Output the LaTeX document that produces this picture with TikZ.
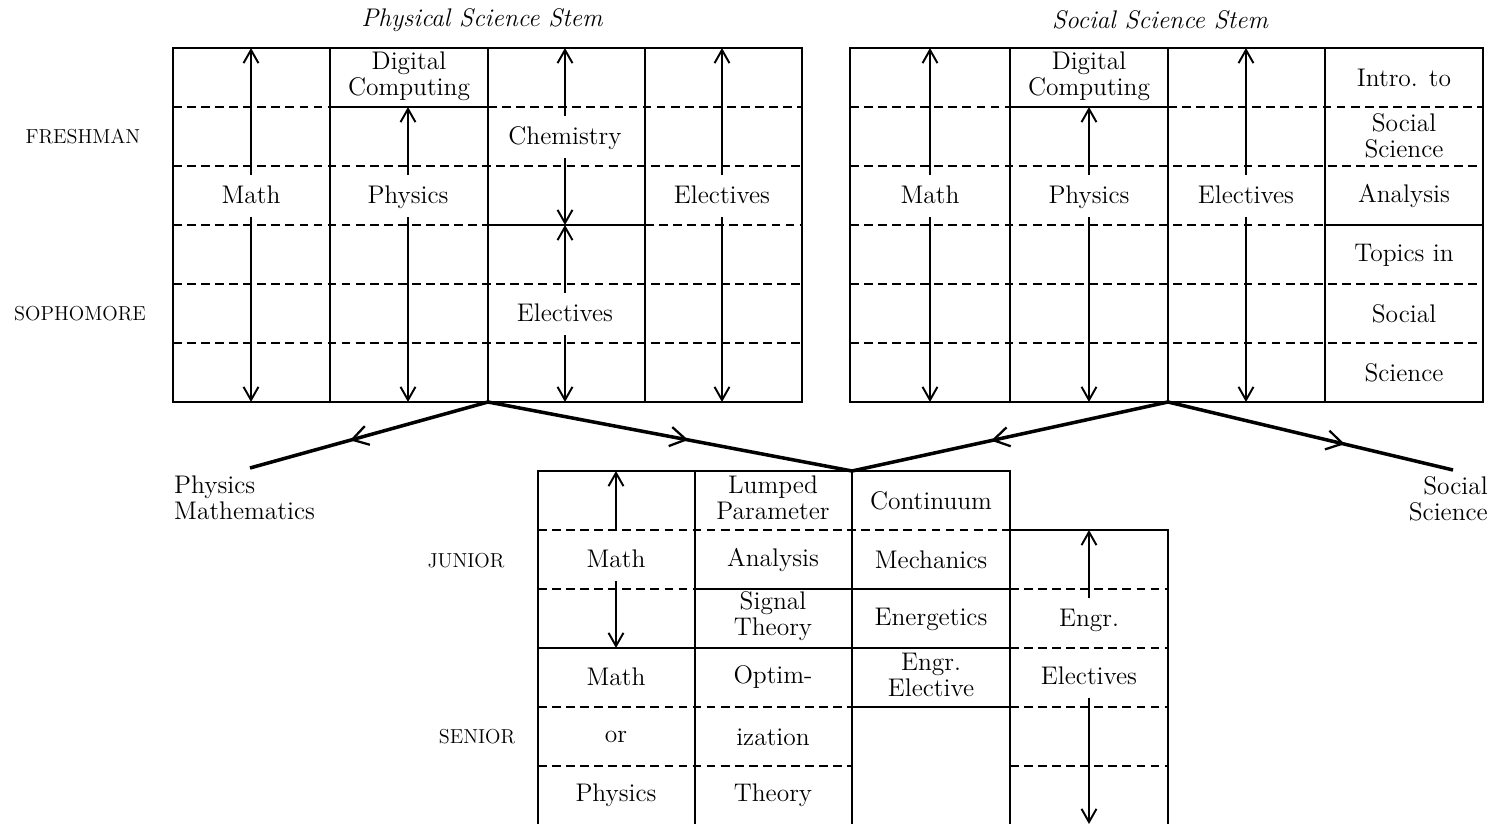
\documentclass[tikz,border=0pt]{standalone}
\usetikzlibrary{arrows.meta,decorations.markings}
\begin{document}
\begin{tikzpicture}[x=0.02cm,y=-0.02cm]
\tikzstyle{every node}+=[font=\fontsize{14.5}{15}\selectfont, align=center]
\tikzstyle{frame}=[black, line width=1.1pt]
\tikzstyle{dashline}=[black, line width=0.9pt, dash pattern=on 5pt off 3pt]
\tikzstyle{cell}=[text height=11pt, text depth=3pt, inner sep=5pt]
\tikzstyle{arr}=[black, line width=1.1pt, -{Straight Barb[length=7.5pt,width=8.5pt]}]
\tikzstyle{year}=[font=\fontsize{11.5}{13}\selectfont]
\tikzstyle{stem}=[font=\fontsize{14.5}{15}\selectfont\itshape]
\tikzset{branch/.style={black, line width=2pt, postaction={decorate},
  decoration={markings, mark=at position #1 with
  {\arrow{Straight Barb[length=9pt,width=11pt,line width=1.3pt]}}}}}
\useasboundingbox (0,0) rectangle (1492,824);
\coordinate (r0) at (0,48);
\coordinate (r1) at (0,107);
\coordinate (r3) at (0,225);
\coordinate (r6) at (0,402);
\coordinate (b0) at (0,471);
\coordinate (b1) at (0,530);
\coordinate (b3) at (0,648);
\coordinate (b6) at (0,824);
% physical science stem
\draw[frame] (173,48) rectangle (802,402);
\foreach \x in {330,488,645} \draw[frame] (\x,48) -- (\x,402);
\draw[dashline] (173,107) -- (330,107) (488,107) -- (802,107);
\draw[frame] (330,107) -- (488,107);
\draw[dashline] (173,166) -- (802,166);
\draw[dashline] (173,225) -- (488,225) (645,225) -- (802,225);
\draw[frame] (488,225) -- (645,225);
\draw[dashline] (173,284) -- (802,284) (173,343) -- (802,343);
\node[stem] (ptitle) at (482,20) {Physical Science Stem};
\node[year] (fresh) at (83,137) {FRESHMAN};
\node[year] (soph) at (80,314) {SOPHOMORE};
\node[cell] (pmath) at (251,196) {Math};
\node (pdig) at (409,76) {Digital\\Computing};
\node[cell] (pphys) at (408,196) {Physics};
\node[cell] (pchem) at (565,137) {Chemistry};
\node[cell] (pelec) at (565,314) {Electives};
\node[cell] (pelec2) at (722,196) {Electives};
\draw[arr] (pmath.north) -- (pmath |- r0);
\draw[arr] (pmath.south) -- (pmath |- r6);
\draw[arr] (pphys.north) -- (pphys |- r1);
\draw[arr] (pphys.south) -- (pphys |- r6);
\draw[arr] (pchem.north) -- (pchem |- r0);
\draw[arr] (pchem.south) -- (pchem |- r3);
\draw[arr] (pelec.north) -- (pelec |- r3);
\draw[arr] (pelec.south) -- (pelec |- r6);
\draw[arr] (pelec2.north) -- (pelec2 |- r0);
\draw[arr] (pelec2.south) -- (pelec2 |- r6);
% social science stem
\draw[frame] (850,48) rectangle (1483,402);
\foreach \x in {1010,1168,1325} \draw[frame] (\x,48) -- (\x,402);
\draw[dashline] (850,107) -- (1010,107) (1168,107) -- (1483,107);
\draw[frame] (1010,107) -- (1168,107);
\draw[dashline] (850,166) -- (1483,166);
\draw[dashline] (850,225) -- (1325,225);
\draw[frame] (1325,225) -- (1483,225);
\draw[dashline] (850,284) -- (1483,284) (850,343) -- (1483,343);
\node[stem] (stitle) at (1160,20) {Social Science Stem};
\node[cell] (smath) at (930,196) {Math};
\node (sdig) at (1089,76) {Digital\\Computing};
\node[cell] (sphys) at (1089,196) {Physics};
\node[cell] (selec) at (1246,196) {Electives};
\node (sintro) at (1404,78) {Intro. to};
\node (ssoc) at (1404,136) {Social\\Science};
\node (sanal) at (1404,196) {Analysis};
\node (stopic) at (1404,255) {Topics in};
\node (ssoc2) at (1404,314) {Social};
\node (ssci) at (1404,373) {Science};
\draw[arr] (smath.north) -- (smath |- r0);
\draw[arr] (smath.south) -- (smath |- r6);
\draw[arr] (sphys.north) -- (sphys |- r1);
\draw[arr] (sphys.south) -- (sphys |- r6);
\draw[arr] (selec.north) -- (selec |- r0);
\draw[arr] (selec.south) -- (selec |- r6);
% junior and senior years
\draw[frame] (538,824) -- (538,471) -- (1010,471) -- (1010,530) -- (1168,530) -- (1168,824);
\foreach \x in {695,852,1010} \draw[frame] (\x,471) -- (\x,824);
\draw[dashline] (538,530) -- (1010,530);
\draw[dashline] (538,589) -- (695,589) (1010,589) -- (1168,589);
\draw[frame] (695,589) -- (1010,589);
\draw[frame] (538,648) -- (1010,648);
\draw[dashline] (1010,648) -- (1168,648);
\draw[dashline] (538,707) -- (852,707) (1010,707) -- (1168,707);
\draw[frame] (852,707) -- (1010,707);
\draw[dashline] (538,766) -- (852,766) (1010,766) -- (1168,766);
\node[year] (jun) at (466,561) {JUNIOR};
\node[year] (sen) at (477,737) {SENIOR};
\node[cell] (jmath) at (616,560) {Math};
\node (jmath2) at (616,677) {Math};
\node (jor) at (616,737) {or};
\node (jphys) at (616,795) {Physics};
\node (jlump) at (773,498) {Lumped\\Parameter};
\node (janal) at (773,560) {Analysis};
\node (jsig) at (773,616) {Signal\\Theory};
\node (jopt) at (773,677) {Optim-};
\node (jiz) at (773,737) {ization};
\node (jtheo) at (773,795) {Theory};
\node (jcont) at (931,501) {Continuum};
\node (jmech) at (931,560) {Mechanics};
\node (jener) at (931,619) {Energetics};
\node (jengel) at (931,675) {Engr.\\Elective};
\node[cell] (jengr) at (1089,619) {Engr.};
\node[cell] (jelec) at (1089,677) {Electives};
\draw[arr] (jmath |- b1) -- (jmath |- b0);
\draw[arr] (jmath.south) -- (jmath |- b3);
\draw[arr] (jengr.north) -- (jengr |- b1);
\draw[arr] (jelec.south) -- (jelec |- b6);
% branches
\coordinate (pbot) at (488,402);
\coordinate (sbot) at (1168,402);
\coordinate (jtop) at (852,471);
\coordinate (pmend) at (250,468);
\coordinate (ssend) at (1453,470);
\node[anchor=west, align=left] (pmtext) at (168,498) {Physics\\Mathematics};
\node[anchor=east, align=right] (sstext) at (1494,499) {Social\\Science};
\draw[branch=0.58] (pbot) -- (pmend);
\draw[branch=0.55] (pbot) -- (jtop);
\draw[branch=0.56] (sbot) -- (jtop);
\draw[branch=0.62] (sbot) -- (ssend);
\end{tikzpicture}
\end{document}
